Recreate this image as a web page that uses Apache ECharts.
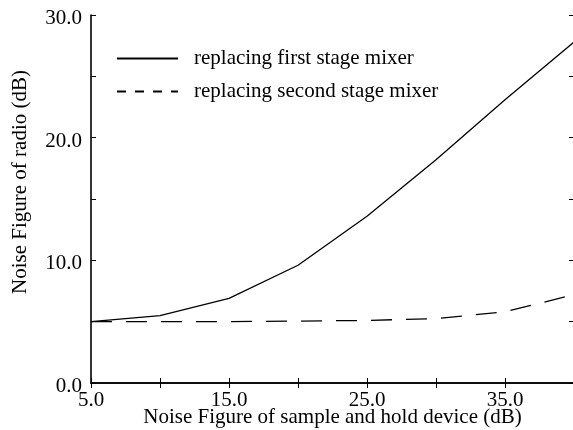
<!DOCTYPE html>
<html>
<head>
<meta charset="utf-8">
<script src="https://cdn.jsdelivr.net/npm/echarts@6/dist/echarts.min.js"></script>
<style>
  html, body { margin: 0; padding: 0; background: #fff; }
  #chart { width: 573px; height: 430px; }
</style>
</head>
<body>
<div id="chart"></div>
<script>
// values
const sampleHoldNF = [5, 10, 15, 20, 25, 30, 35, 40]
const firstStage = [5.0, 5.5, 6.9, 9.6, 13.6, 18.2, 23.1, 27.8]
const secondStage = [5.0, 5.0, 5.0, 5.05, 5.1, 5.25, 5.8, 7.2]
const xLabels = [5, 15, 25, 35]
const yLabels = [0, 10, 20, 30]

const font = 'Liberation Serif'
const myChart = echarts.init(document.getElementById('chart'))

const pairs = (ys) => sampleHoldNF.map((x, i) => [x, ys[i]])

const axisCommon = {
  axisLine: { lineStyle: { color: '#000', width: 1.6 } },
  axisTick: { inside: true, length: 5, lineStyle: { color: '#000', width: 1 } },
  splitLine: { show: false },
}

const option = {
  animation: false,
  textStyle: { fontFamily: font },
  grid: { left: 91, right: -1, top: 15, bottom: 47, outerBoundsMode: 'none', containLabel: false },
  legend: {
    orient: 'vertical',
    left: 111,
    top: 43,
    itemWidth: 61,
    itemHeight: 21,
    itemGap: 12,
    itemStyle: { opacity: 0 },
    textStyle: { fontFamily: font, fontSize: 21, color: '#000', padding: [0, 0, 0, 11] },
    data: [
      { name: 'replacing first stage mixer' },
      { name: 'replacing second stage mixer', lineStyle: { type: [9, 9] } },
    ],
  },
  xAxis: [
    {
      type: 'value', min: 5, max: 40, interval: 5,
      ...axisCommon,
      name: 'Noise Figure of sample and hold device (dB)',
      nameLocation: 'middle', nameGap: 24, nameMoveOverlap: false,
      nameTextStyle: { fontFamily: font, fontSize: 21, color: '#000' },
      axisLabel: {
        fontFamily: font, fontSize: 21, color: '#000', margin: 7,
        formatter: (v) => (xLabels.includes(v) ? v.toFixed(1) : ''),
      },
    },
    {
      type: 'value', min: 5, max: 40, interval: 5, position: 'top',
      ...axisCommon, axisLabel: { show: false },
    },
  ],
  yAxis: [
    {
      type: 'value', min: 0, max: 30, interval: 5,
      ...axisCommon,
      name: 'Noise Figure of radio (dB)',
      nameLocation: 'middle', nameGap: 60, nameMoveOverlap: false,
      nameTextStyle: { fontFamily: font, fontSize: 21, color: '#000', padding: [0, 0, 0, 34] },
      axisLabel: {
        fontFamily: font, fontSize: 21, color: '#000', margin: 9,
        verticalAlign: 'top', lineHeight: 7,
        formatter: (v) => (yLabels.includes(v) ? v.toFixed(1) : ''),
      },
    },
    {
      type: 'value', min: 0, max: 30, interval: 5, position: 'right',
      ...axisCommon, axisLabel: { show: false },
    },
  ],
  series: [
    {
      name: 'replacing first stage mixer',
      type: 'line',
      data: pairs(firstStage),
      symbol: 'none',
      lineStyle: { color: '#000', width: 1.3, type: 'solid' },
      itemStyle: { color: '#000' },
    },
    {
      name: 'replacing second stage mixer',
      type: 'line',
      data: pairs(secondStage),
      symbol: 'none',
      lineStyle: { color: '#000', width: 1.3, type: [21, 14] },
      itemStyle: { color: '#000' },
    },
  ],
}

option && myChart.setOption(option)
</script>
</body>
</html>
